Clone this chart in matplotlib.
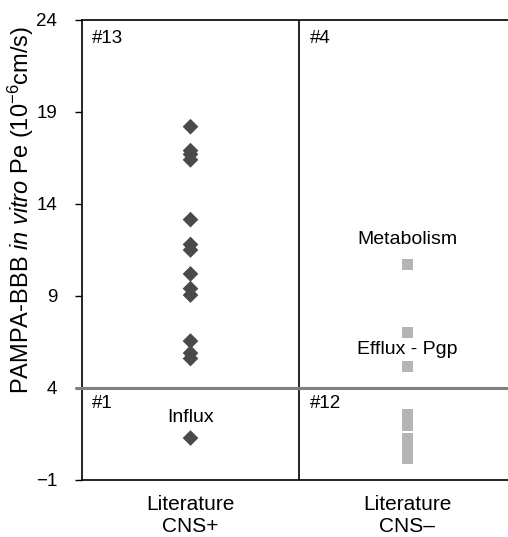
import matplotlib
matplotlib.use("Agg")
import matplotlib.pyplot as plt

plt.rcParams['font.family'] = ['Liberation Sans', 'DejaVu Sans']
plt.rcParams['mathtext.fontset'] = 'custom'
plt.rcParams['mathtext.rm'] = 'Liberation Sans'
plt.rcParams['mathtext.it'] = 'Liberation Sans:italic'

# Data
categories = ["Literature\nCNS+", "Literature\nCNS\u2013"]
cns_pos_values = [18.2, 16.9, 16.7, 16.4, 13.15, 11.8, 11.5, 10.2, 9.4, 9.05, 6.55, 5.9, 5.6, 1.28]
cns_neg_values = [10.7, 7.0, 7.0, 5.15,
                  2.55, 2.3, 2.1, 1.98,
                  1.25, 1.0, 0.95, 0.7, 0.45, 0.3, 0.16, 0.16]
threshold = 4
yticks = [-1, 4, 9, 14, 19, 24]
quadrant_labels = ["#13", "#4", "#1", "#12"]

W, H = 508, 537
fig = plt.figure(figsize=(W / 100, H / 100), dpi=100)
ax = fig.add_axes([82 / W, 57 / H, 434 / W, 460 / H])

ax.scatter([1] * len(cns_pos_values), cns_pos_values, marker='D', s=64,
           color='#4a4a4a', edgecolors='none', zorder=3)
ax.scatter([2] * len(cns_neg_values), cns_neg_values, marker='s', s=66,
           color='#b5b5b5', edgecolors='none', zorder=3)

ax.set_xlim(0.5, 2.5)
ax.set_ylim(-1, 24)
ax.set_yticks(yticks)
ax.set_yticklabels([str(t).replace('-', '\u2212') for t in yticks], fontsize=13.5)
ax.set_xticks([1, 2])
ax.set_xticklabels(categories, fontsize=15, linespacing=1.2)
ax.tick_params(axis='x', length=0, pad=11)
ax.tick_params(axis='y', length=5, width=1, direction='out', pad=13)

for s in ax.spines.values():
    s.set_linewidth(1.2)
    s.set_color('black')

# divider and threshold lines
ax.axvline(1.5, color='black', lw=1.2, zorder=2)
ax.hlines(threshold, -0.015, 1.0, transform=ax.get_yaxis_transform(),
          color='#808080', lw=2.2, clip_on=False, zorder=4)

# quadrant labels
ax.text(0.545, 23.0, quadrant_labels[0], fontsize=13.5, va='center', ha='left')
ax.text(1.55, 23.0, quadrant_labels[1], fontsize=13.5, va='center', ha='left')
ax.text(0.545, 3.15, quadrant_labels[2], fontsize=13.5, va='center', ha='left')
ax.text(1.55, 3.15, quadrant_labels[3], fontsize=13.5, va='center', ha='left')

ax.text(2, 12.07, "Metabolism", fontsize=14, ha='center', va='center')
ax.text(2, 6.1, "Efflux - Pgp", fontsize=14, ha='center', va='center')
ax.text(1, 2.42, "Influx", fontsize=14, ha='center', va='center')

fig.text(21 / W, 1 - 210 / H,
         "PAMPA-BBB $\\it{in\\ vitro}$ Pe (10$^{\u22126}$cm/s)",
         rotation=90, fontsize=17, ha='center', va='center')

fig.savefig("out.png", dpi=100)
